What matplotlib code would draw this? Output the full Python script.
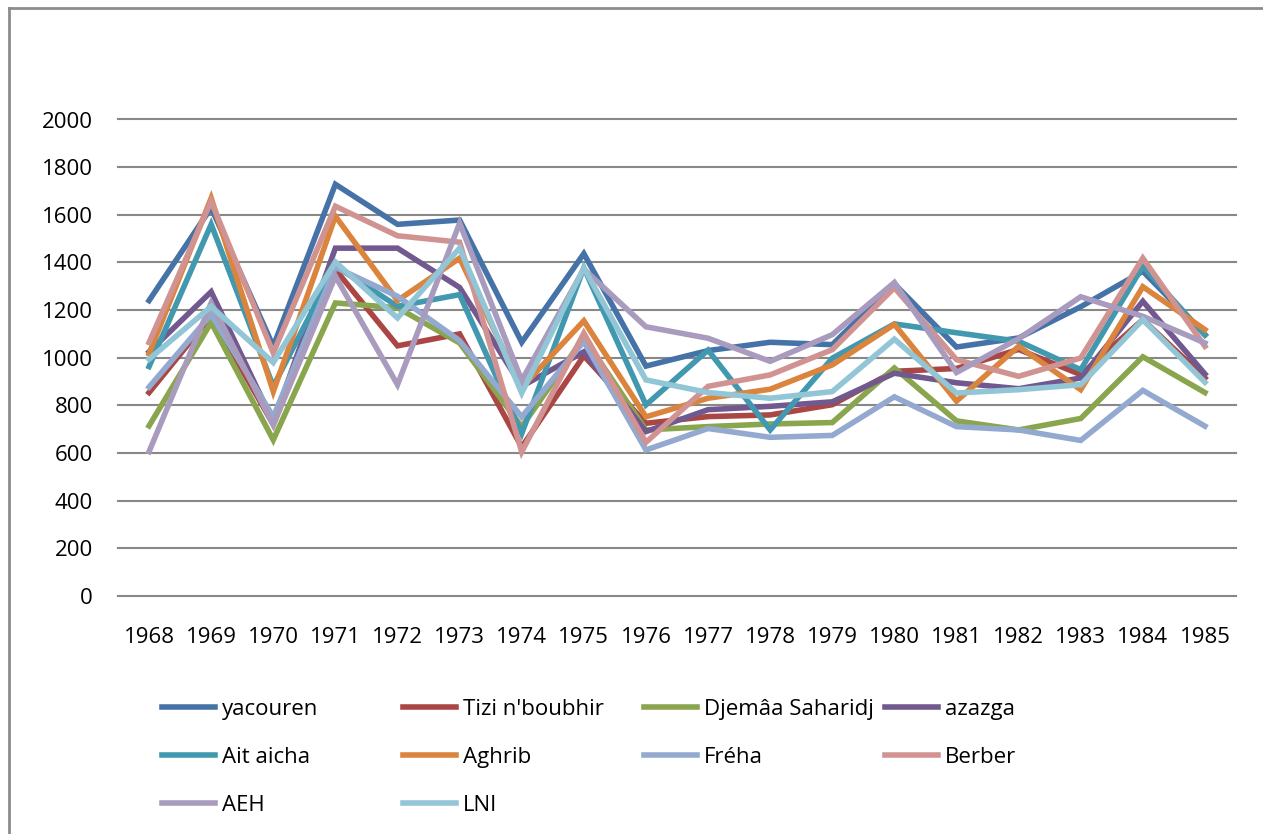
import matplotlib
matplotlib.use("Agg")
import matplotlib.pyplot as plt
from matplotlib.lines import Line2D

plt.rcParams['font.family'] = ['Open Sans', 'DejaVu Sans']

years = [str(y) for y in range(1968, 1986)]

yacouren = [1240, 1630, 1048, 1728, 1560, 1578, 1065, 1437, 965, 1030, 1065, 1055, 1310, 1045, 1083, 1214, 1363, 1097]
tizi = [854, 1175, 720, 1370, 1050, 1100, 625, 1008, 725, 753, 760, 803, 943, 955, 1035, 929, 1160, 915]
djemaa = [714, 1148, 655, 1230, 1210, 1062, 710, 1085, 697, 711, 722, 728, 957, 735, 697, 745, 1004, 854]
azazga = [1025, 1277, 730, 1460, 1460, 1295, 880, 1025, 690, 782, 796, 815, 935, 895, 870, 915, 1237, 932]
ait_aicha = [963, 1560, 880, 1385, 1216, 1265, 682, 1377, 802, 1032, 697, 998, 1142, 1105, 1069, 950, 1384, 1095]
aghrib = [1017, 1670, 858, 1594, 1240, 1418, 875, 1155, 752, 830, 868, 970, 1140, 818, 1048, 866, 1298, 1118]
freha = [877, 1182, 752, 1380, 1258, 1072, 752, 1068, 613, 703, 666, 674, 836, 711, 697, 653, 863, 713]
berber = [1064, 1657, 1020, 1636, 1512, 1485, 605, 1103, 645, 880, 928, 1034, 1294, 992, 922, 999, 1418, 1048]
aeh = [606, 1230, 718, 1342, 887, 1565, 905, 1372, 1130, 1082, 985, 1097, 1316, 938, 1080, 1256, 1174, 1062]
lni = [994, 1215, 980, 1402, 1167, 1460, 852, 1377, 907, 854, 830, 858, 1078, 852, 866, 887, 1160, 897]

names = ['yacouren', "Tizi n'boubhir", 'Djemâa Saharidj', 'azazga', 'Ait aicha',
         'Aghrib', 'Fréha', 'Berber', 'AEH', 'LNI']
series = [yacouren, tizi, djemaa, azazga, ait_aicha, aghrib, freha, berber, aeh, lni]
colors = ['#4572A7', '#AA4643', '#89A54E', '#71588F', '#4198AF',
          '#DB843D', '#93A9CF', '#D19392', '#A99BBD', '#92C5D5']

fig = plt.figure(figsize=(12.63, 8.34), dpi=100)
ax = fig.add_axes([118 / 1263, 1 - 596 / 834, (1236 - 118) / 1263, (596 - 119.5) / 834])

x = range(len(years))
for vals, name, c in zip(series, names, colors):
    ax.plot(x, vals, color=c, lw=4.0, label=name, solid_joinstyle='miter')

ax.set_xlim(-0.5, len(years) - 0.5)
ax.set_ylim(0, 2000)
ax.set_yticks(range(0, 2001, 200))
ax.set_xticks(list(x))
ax.set_xticklabels(years)
ax.grid(axis='y', color='#888888', lw=1.5)
for gl in ax.get_ygridlines():
    gl.set_clip_on(False)
ax.set_axisbelow(True)
for s in ax.spines.values():
    s.set_visible(False)
ax.tick_params(length=0, labelsize=16, colors='black')
ax.tick_params(axis='y', pad=18)
ax.tick_params(axis='x', pad=22)

# legend: 4 equal-width columns, row-major order like Excel
handles = [Line2D([], [], color=c, lw=4.0) for c in colors]
col_x = [162, 403, 644, 885]
for ci in range(4):
    idx = list(range(ci, len(names), 4))
    fig.legend([handles[i] for i in idx], [names[i] for i in idx],
               loc='upper left', bbox_to_anchor=(col_x[ci] / 1263, 1 - 699 / 834),
               frameon=False, fontsize=16, handlelength=2.4, handletextpad=0.3,
               borderaxespad=0, borderpad=0, labelspacing=1.22)

# outer chart frame (only left and top edges visible in the crop)
fig.add_artist(Line2D([9 / 1263, 9 / 1263], [0, 1 - 8 / 834], transform=fig.transFigure,
                      color='#8c8c8c', lw=2))
fig.add_artist(Line2D([9 / 1263, 1], [1 - 8 / 834, 1 - 8 / 834], transform=fig.transFigure,
                      color='#8c8c8c', lw=2))

fig.savefig('out.png', dpi=100)
